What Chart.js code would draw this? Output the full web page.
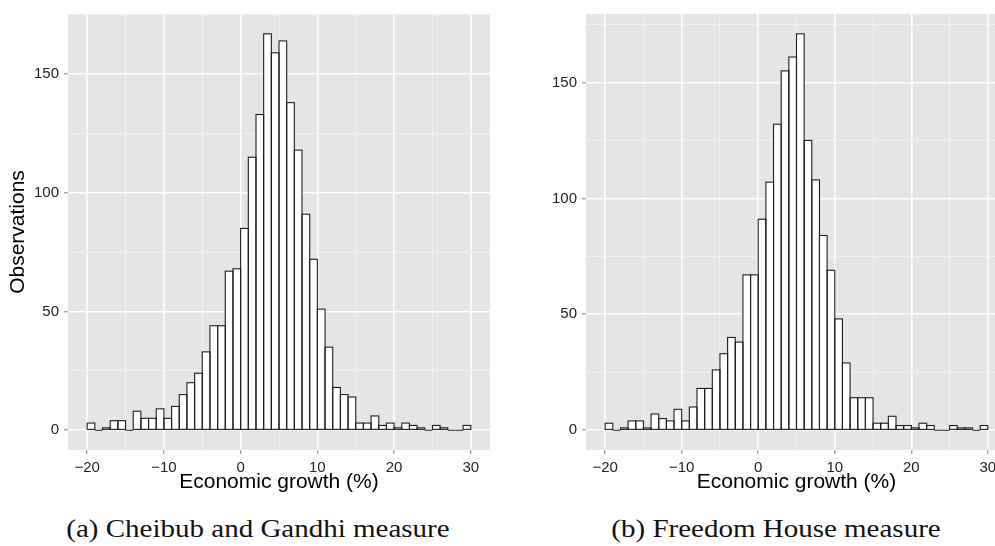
<!DOCTYPE html>
<html>
<head>
<meta charset="utf-8">
<script src="https://cdn.jsdelivr.net/npm/chart.js@4/dist/chart.umd.min.js"></script>
<style>
  html, body { margin: 0; padding: 0; background: #fff; overflow: hidden; width: 995px; height: 546px; }
  .panel { position: absolute; top: 0; width: 500px; height: 500px; }
  #wrapA { left: 0; }
  #wrapB { left: 520px; }
  .cap {
    position: absolute; top: 515px;
    font-family: "Liberation Serif", "Times New Roman", serif; font-size: 25px; color: #111;
    white-space: nowrap; transform: translateX(-50%) scaleX(1.16);
  }
</style>
</head>
<body>
<div class="panel" id="wrapA"><canvas id="chartA" width="500" height="500"></canvas></div>
<div class="panel" id="wrapB"><canvas id="chartB" width="500" height="500"></canvas></div>
<div class="cap" style="left:258px">(a) Cheibub and Gandhi measure</div>
<div class="cap" style="left:776px">(b) Freedom House measure</div>

<script>
// Bin centres of the growth histogram (bins of width 1, from -20 to 30)
const binCentres = [
  -19.5, -18.5, -17.5, -16.5, -15.5, -14.5, -13.5, -12.5, -11.5, -10.5,
  -9.5, -8.5, -7.5, -6.5, -5.5, -4.5, -3.5, -2.5, -1.5, -0.5,
  0.5, 1.5, 2.5, 3.5, 4.5, 5.5, 6.5, 7.5, 8.5, 9.5,
  10.5, 11.5, 12.5, 13.5, 14.5, 15.5, 16.5, 17.5, 18.5, 19.5,
  20.5, 21.5, 22.5, 23.5, 24.5, 25.5, 26.5, 27.5, 28.5, 29.5
];

// Observations per bin, Cheibub and Gandhi measure
const countsCheibubGandhi = [
  3, 0, 1, 4, 4, 0, 8, 5, 5, 9,
  5, 10, 15, 20, 24, 33, 44, 44, 67, 68,
  85, 115, 133, 167, 159, 164, 138, 118, 91, 72,
  51, 35, 18, 15, 14, 3, 3, 6, 2, 3,
  1, 3, 2, 1, 0, 2, 1, 0, 0, 2
];

// Observations per bin, Freedom House measure
const countsFreedomHouse = [
  3, 0, 1, 4, 4, 1, 7, 5, 4, 9,
  4, 10, 18, 18, 26, 33, 40, 38, 67, 67,
  91, 107, 132, 155, 161, 171, 125, 108, 84, 69,
  48, 29, 14, 14, 14, 3, 3, 6, 2, 2,
  1, 3, 2, 0, 0, 2, 1, 1, 0, 2
];

// Axis ticks (major ones carry labels, the others are minor grid lines)
const xTicks = [-20, -15, -10, -5, 0, 5, 10, 15, 20, 25, 30];
const xLabelled = [-20, -10, 0, 10, 20, 30];
const yTicks = [0, 25, 50, 75, 100, 125, 150, 175];
const yLabelled = [0, 50, 100, 150];

const xTitle = 'Economic growth (%)';
const yTitle = 'Observations';

const SANS = '"Liberation Sans", Arial, Helvetica, sans-serif';

// grey panel behind the grid
const panelBackground = {
  id: 'panelBackground',
  beforeDraw(chart) {
    const { ctx, chartArea: a } = chart;
    ctx.save();
    ctx.fillStyle = '#E5E5E5';
    ctx.fillRect(a.left, a.top, a.right - a.left, a.bottom - a.top);
    ctx.restore();
  }
};

// outline every bin (including empty ones) on all four sides
const barOutline = {
  id: 'barOutline',
  afterDatasetsDraw(chart) {
    const ctx = chart.ctx;
    const meta = chart.getDatasetMeta(0);
    ctx.save();
    ctx.strokeStyle = '#1c1c1c';
    ctx.lineWidth = 1.1;
    meta.data.forEach(bar => {
      const { x, y, base, width } = bar.getProps(['x', 'y', 'base', 'width'], true);
      ctx.strokeRect(x - width / 2, Math.min(y, base), width, Math.abs(base - y));
    });
    ctx.restore();
  }
};

function fmt(v) {
  return v < 0 ? '\u2212' + Math.abs(v) : String(v);
}

function gridFor(labelled) {
  return {
    drawOnChartArea: true,
    drawTicks: true,
    tickLength: 4,
    offset: false,
    color: c => labelled.includes(c.tick.value) ? '#FFFFFF' : '#F2F2F2',
    lineWidth: c => labelled.includes(c.tick.value) ? 1.6 : 0.9,
    tickColor: c => labelled.includes(c.tick.value) ? '#7F7F7F' : 'rgba(0,0,0,0)',
    tickWidth: 1
  };
}

function makeChart(id, counts, yMin, yMax, yAxisWidth, rightPad, showYTitle) {
  return new Chart(document.getElementById(id), {
    type: 'bar',
    data: {
      datasets: [{
        data: binCentres.map((x, i) => ({ x: x, y: counts[i] })),
        backgroundColor: '#FFFFFF',
        borderWidth: 0,
        barPercentage: 1,
        categoryPercentage: 1
      }]
    },
    options: {
      responsive: false,
      animation: false,
      devicePixelRatio: 1,
      layout: { padding: { top: 12, right: rightPad, left: 0, bottom: 0 } },
      plugins: { legend: { display: false }, tooltip: { enabled: false } },
      scales: {
        x: {
          type: 'linear',
          min: -22.5,
          max: 32.5,
          offset: false,
          afterBuildTicks: s => { s.ticks = xTicks.map(v => ({ value: v })); },
          afterFit: s => { s.height = 50; },
          ticks: {
            autoSkip: false, maxRotation: 0, padding: 5,
            color: '#222', font: { family: SANS, size: 15 },
            callback: v => xLabelled.includes(v) ? fmt(v) : ''
          },
          grid: gridFor(xLabelled),
          border: { display: false },
          title: {
            display: true, text: xTitle, color: '#000',
            font: { family: SANS, size: 21 },
            padding: { top: 0, bottom: 5.5 }
          }
        },
        y: {
          type: 'linear',
          min: yMin,
          max: yMax,
          afterBuildTicks: s => { s.ticks = yTicks.map(v => ({ value: v })); },
          afterFit: s => { s.width = yAxisWidth; },
          ticks: {
            autoSkip: false, padding: 5,
            color: '#222', font: { family: SANS, size: 15 },
            callback: v => yLabelled.includes(v) ? fmt(v) : ''
          },
          grid: gridFor(yLabelled),
          border: { display: false },
          title: {
            display: showYTitle, text: yTitle, color: '#000',
            font: { family: SANS, size: 21 },
            padding: { top: 6, bottom: 0 }
          }
        }
      }
    },
    plugins: [panelBackground, barOutline]
  });
}

makeChart('chartA', countsCheibubGandhi, -8.35, 175.35, 68, 10, true);
makeChart('chartB', countsFreedomHouse, -8.55, 179.55, 66, 13, false);
</script>
</body>
</html>
